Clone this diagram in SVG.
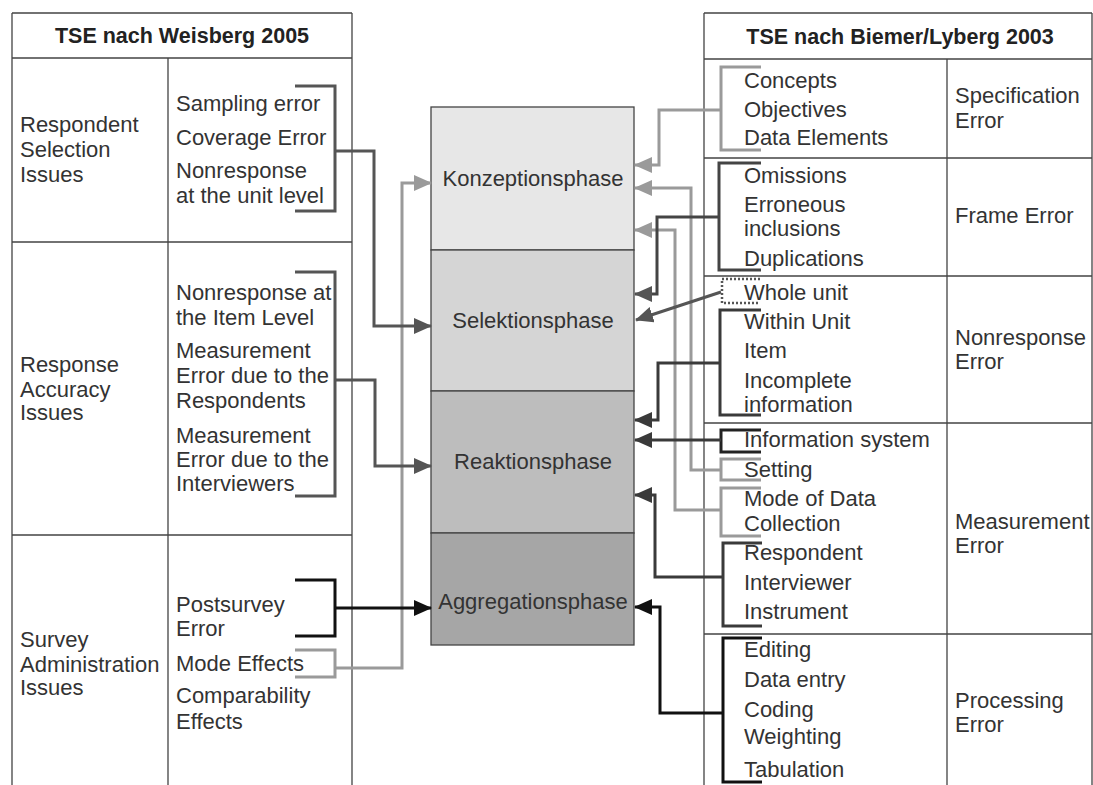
<svg xmlns="http://www.w3.org/2000/svg" width="1093" height="785" viewBox="0 0 1093 785">
  <style>
    .grid { stroke: #444; stroke-width: 1.3; fill: none; }
    .box { stroke: #444; stroke-width: 1.3; }
    .t { font-family: "Liberation Sans", Arial, sans-serif; font-size: 22px; fill: #333; }
    .h { font-family: "Liberation Sans", Arial, sans-serif; font-size: 21.5px; font-weight: bold; fill: #222; text-anchor: middle; }
    .ph { font-family: "Liberation Sans", Arial, sans-serif; font-size: 22px; fill: #333; text-anchor: middle; }
    .br { fill: none; stroke-width: 3; stroke-linejoin: miter; }
    .ln { fill: none; stroke-width: 3; stroke-linejoin: miter; }
    .lg { stroke: #9a9a9a; }
    .mg { stroke: #555; }
    .dg { stroke: #3a3a3a; }
    .bk { stroke: #111; }
  </style>
  <defs>
    <marker id="aLg" markerUnits="userSpaceOnUse" markerWidth="18" markerHeight="16" refX="17" refY="8" orient="auto"><path d="M0,0 L18,8 L0,16 z" fill="#9a9a9a"/></marker>
    <marker id="aMg" markerUnits="userSpaceOnUse" markerWidth="18" markerHeight="16" refX="17" refY="8" orient="auto"><path d="M0,0 L18,8 L0,16 z" fill="#555"/></marker>
    <marker id="aDg" markerUnits="userSpaceOnUse" markerWidth="18" markerHeight="16" refX="17" refY="8" orient="auto"><path d="M0,0 L18,8 L0,16 z" fill="#3a3a3a"/></marker>
    <marker id="aBk" markerUnits="userSpaceOnUse" markerWidth="18" markerHeight="16" refX="17" refY="8" orient="auto"><path d="M0,0 L18,8 L0,16 z" fill="#111"/></marker>
  </defs>
  <rect width="1093" height="785" fill="#fff"/>

  <!-- Left table: TSE nach Weisberg 2005 -->
  <g id="weisberg-table">
    <path class="grid" d="M12,13 H352 M12,13 V785 M352,13 V785 M12,58 H352 M168,58 V785 M12,242 H352 M12,535 H352"/>
    <text class="h" x="182" y="43">TSE nach Weisberg 2005</text>
  </g>
  <g id="w-respondent-selection">
    <text class="t" x="20" y="132">Respondent</text>
    <text class="t" x="20" y="157">Selection</text>
    <text class="t" x="20" y="182">Issues</text>
    <text class="t" x="176" y="111">Sampling error</text>
    <text class="t" x="176" y="145">Coverage Error</text>
    <text class="t" x="176" y="178">Nonresponse</text>
    <text class="t" x="176" y="203">at the unit level</text>
  </g>
  <g id="w-response-accuracy">
    <text class="t" x="20" y="372">Response</text>
    <text class="t" x="20" y="397">Accuracy</text>
    <text class="t" x="20" y="420">Issues</text>
    <text class="t" x="176" y="300">Nonresponse at</text>
    <text class="t" x="176" y="325">the Item Level</text>
    <text class="t" x="176" y="358">Measurement</text>
    <text class="t" x="176" y="383">Error due to the</text>
    <text class="t" x="176" y="408">Respondents</text>
    <text class="t" x="176" y="443">Measurement</text>
    <text class="t" x="176" y="467">Error due to the</text>
    <text class="t" x="176" y="491">Interviewers</text>
  </g>
  <g id="w-survey-administration">
    <text class="t" x="20" y="647">Survey</text>
    <text class="t" x="20" y="672">Administration</text>
    <text class="t" x="20" y="695">Issues</text>
    <text class="t" x="176" y="612">Postsurvey</text>
    <text class="t" x="176" y="636">Error</text>
    <text class="t" x="176" y="671">Mode Effects</text>
    <text class="t" x="176" y="703">Comparability</text>
    <text class="t" x="176" y="729">Effects</text>
  </g>

  <!-- Phase stack -->
  <g id="konzeptionsphase">
    <rect class="box" x="431" y="107" width="203" height="143" fill="#e7e7e7"/>
    <text class="ph" x="533" y="186">Konzeptionsphase</text>
  </g>
  <g id="selektionsphase">
    <rect class="box" x="431" y="250" width="203" height="141" fill="#d5d5d5"/>
    <text class="ph" x="533" y="328">Selektionsphase</text>
  </g>
  <g id="reaktionsphase">
    <rect class="box" x="431" y="391" width="203" height="142" fill="#bdbdbd"/>
    <text class="ph" x="533" y="469">Reaktionsphase</text>
  </g>
  <g id="aggregationsphase">
    <rect class="box" x="431" y="533" width="203" height="112" fill="#a6a6a6"/>
    <text class="ph" x="533" y="609">Aggregationsphase</text>
  </g>

  <!-- Right table: TSE nach Biemer/Lyberg 2003 -->
  <g id="biemer-table">
    <path class="grid" d="M704,13 H1092 M704,13 V785 M1092,13 V785 M704,59 H1092 M947,59 V785 M704,158 H1092 M704,276 H1092 M704,423 H1092 M704,634 H1092"/>
    <text class="h" x="900" y="44">TSE nach Biemer/Lyberg 2003</text>
  </g>
  <g id="b-specification">
    <text class="t" x="744" y="88">Concepts</text>
    <text class="t" x="744" y="117">Objectives</text>
    <text class="t" x="744" y="145">Data Elements</text>
    <text class="t" x="955" y="103">Specification</text>
    <text class="t" x="955" y="128">Error</text>
  </g>
  <g id="b-frame">
    <text class="t" x="744" y="183">Omissions</text>
    <text class="t" x="744" y="212">Erroneous</text>
    <text class="t" x="744" y="236">inclusions</text>
    <text class="t" x="744" y="266">Duplications</text>
    <text class="t" x="955" y="223">Frame Error</text>
  </g>
  <g id="b-nonresponse">
    <text class="t" x="744" y="300">Whole unit</text>
    <text class="t" x="744" y="329">Within Unit</text>
    <text class="t" x="744" y="358">Item</text>
    <text class="t" x="744" y="388">Incomplete</text>
    <text class="t" x="744" y="412">information</text>
    <text class="t" x="955" y="345">Nonresponse</text>
    <text class="t" x="955" y="369">Error</text>
  </g>
  <g id="b-measurement">
    <text class="t" x="744" y="447">Information system</text>
    <text class="t" x="744" y="477">Setting</text>
    <text class="t" x="744" y="506">Mode of Data</text>
    <text class="t" x="744" y="531">Collection</text>
    <text class="t" x="744" y="560">Respondent</text>
    <text class="t" x="744" y="590">Interviewer</text>
    <text class="t" x="744" y="619">Instrument</text>
    <text class="t" x="955" y="529">Measurement</text>
    <text class="t" x="955" y="553">Error</text>
  </g>
  <g id="b-processing">
    <text class="t" x="744" y="657">Editing</text>
    <text class="t" x="744" y="687">Data entry</text>
    <text class="t" x="744" y="717">Coding</text>
    <text class="t" x="744" y="744">Weighting</text>
    <text class="t" x="744" y="777">Tabulation</text>
    <text class="t" x="955" y="708">Processing</text>
    <text class="t" x="955" y="732">Error</text>
  </g>

  <!-- Brackets and connectors -->
  <g id="connectors">
    <!-- left side brackets -->
    <path class="br mg" d="M295,86 H335 V211 H295"/>
    <path class="br mg" d="M295,272 H335 V496 H295"/>
    <path class="br bk" d="M295,580 H335 V636 H295"/>
    <path class="br lg" d="M295,650 H335 V677 H295"/>
    <!-- left side connectors -->
    <path class="ln lg" d="M335,668 H402 V183 H431" marker-end="url(#aLg)"/>
    <path class="ln mg" d="M335,151 H374 V326 H431" marker-end="url(#aMg)"/>
    <path class="ln mg" d="M335,380 H375 V466 H431" marker-end="url(#aMg)"/>
    <path class="ln bk" d="M335,608 H431" marker-end="url(#aBk)"/>

    <!-- right side brackets -->
    <path class="br lg" d="M761,67 H721 V150 H761"/>
    <path class="br lg" d="M761,459 H721 V480 H761"/>
    <path class="br lg" d="M761,488 H721 V536 H761"/>
    <path class="br" d="M761,163 H719 V270 H761" stroke="#444"/>
    <path d="M760,279 H722 V303 H760" fill="none" stroke="#555" stroke-width="2.5" stroke-dasharray="2,2"/>
    <path class="br dg" d="M761,310 H720 V415 H761"/>
    <path class="br" d="M761,430 H721 V452 H761" stroke="#222"/>
    <path class="br dg" d="M762,543 H723 V626 H762"/>
    <path class="br bk" d="M762,638 H723 V782 H762"/>
    <!-- right side connectors -->
    <path class="ln lg" d="M721,110 H659 V165 H635" marker-end="url(#aLg)"/>
    <path class="ln lg" d="M721,470 H691 V188 H635" marker-end="url(#aLg)"/>
    <path class="ln lg" d="M721,510 H675 V230 H635" marker-end="url(#aLg)"/>
    <path class="ln" d="M719,217 H657 V294 H635" stroke="#444" marker-end="url(#aMg)"/>
    <path class="ln mg" d="M721,292 L636,320" marker-end="url(#aMg)"/>
    <path class="ln dg" d="M720,363 H658 V420 H635" marker-end="url(#aDg)"/>
    <path class="ln dg" d="M721,440 H635" marker-end="url(#aDg)"/>
    <path class="ln dg" d="M723,577 H655 V495 H635" marker-end="url(#aDg)"/>
    <path class="ln bk" d="M723,713 H660 V607 H635" marker-end="url(#aBk)"/>
  </g>
</svg>
